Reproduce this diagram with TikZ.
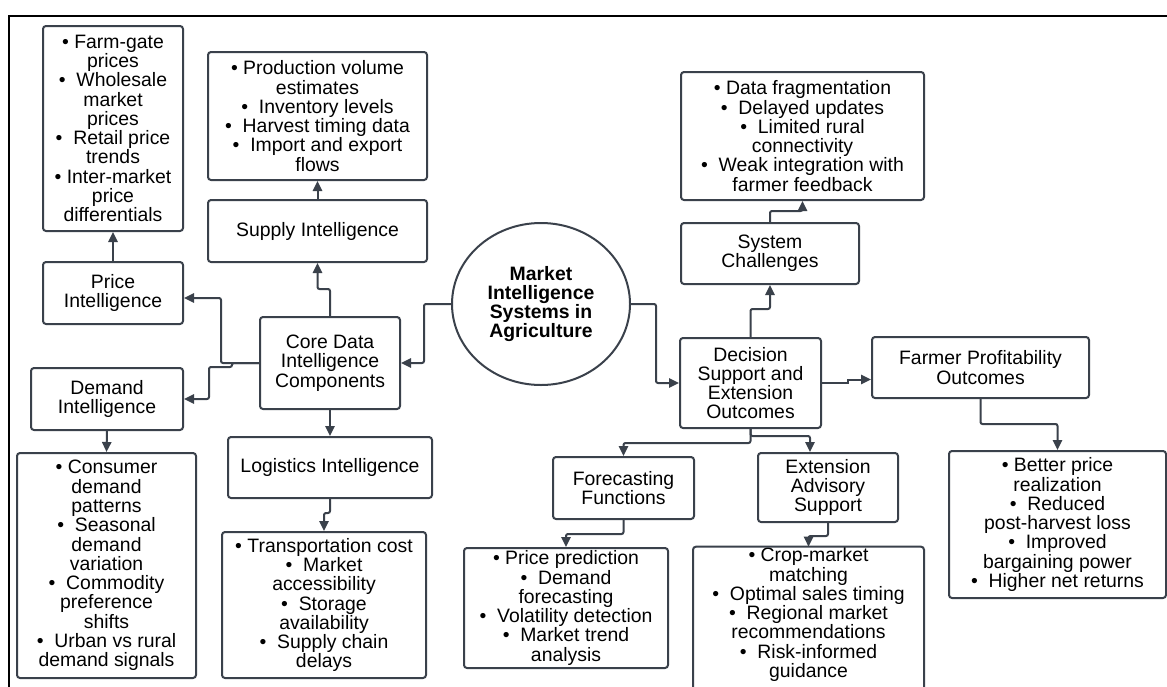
\documentclass[tikz,border=0pt]{standalone}
\usepackage{fontspec}
\setmainfont{Liberation Sans}
\usetikzlibrary{arrows.meta,shapes.geometric}
\definecolor{ln}{RGB}{58,65,75}
\newcommand{\bl}{\textbullet\ }
\newcommand{\bll}{\textbullet\ \ }
\begin{document}
\begin{tikzpicture}[x=0.5pt,y=-0.5pt,
  box/.style={draw=ln, line width=1pt, rounded corners=1.5pt, align=center, inner sep=0pt,
    font=\fontsize{9.7pt}{9.63pt}\selectfont, text=black},
  arr/.style={draw=ln, line width=1pt, rounded corners=1pt, -{Triangle[length=5pt,width=4.6pt]}},
  frame/.style={draw=black, line width=1pt}
]
\useasboundingbox (0,0) rectangle (1167,686);
\draw[frame] (9,690) -- (9,16) -- (1170,16);

% left side
\node[box, minimum width=70pt, minimum height=102.5pt] (pricebul) at (113,128.5)
  {\bl Farm-gate\\prices\\\bll Wholesale\\market\\prices\\\bll Retail price\\trends\\\bl Inter-market\\price\\differentials};
\node[box, minimum width=109.5pt, minimum height=64pt] (supplybul) at (317.5,116)
  {\bl Production volume\\estimates\\\bll Inventory levels\\\bll Harvest timing data\\\bll Import and export\\flows};
\node[box, minimum width=109.5pt, minimum height=31pt] (supply) at (317.5,231) {Supply Intelligence};
\node[box, minimum width=70pt, minimum height=31pt] (price) at (113,293) {Price\\Intelligence};
\node[box, minimum width=70pt, minimum height=46pt] (core) at (330,363) {Core Data\\Intelligence\\Components};
\node[box, minimum width=76pt, minimum height=31pt] (demand) at (107,399) {Demand\\Intelligence};
\node[box, minimum width=102pt, minimum height=30.5pt] (logistics) at (330,467.5) {Logistics Intelligence};
\node[box, minimum width=89.5pt, minimum height=112.5pt] (demandbul) at (106.5,565.5)
  {\bl Consumer\\demand\\patterns\\\bll Seasonal\\demand\\variation\\\bll Commodity\\preference\\shifts\\\bll Urban vs rural\\demand signals};
\node[box, minimum width=102pt, minimum height=73pt] (logbul) at (324,605)
  {\bl Transportation cost\\\bll Market\\accessibility\\\bll Storage\\availability\\\bll Supply chain\\delays};

% centre
\node[box, ellipse, minimum width=89pt, minimum height=81pt, font=\fontsize{9.7pt}{9.63pt}\selectfont\bfseries] (mis) at (541,304)
  {Market\\Intelligence\\Systems in\\Agriculture};

% right side
\node[box, minimum width=70.5pt, minimum height=45pt] (decision) at (750.5,383) {Decision\\Support and\\Extension\\Outcomes};
\node[box, minimum width=89pt, minimum height=30.5pt] (syschal) at (770,253.5) {System\\Challenges};
\node[box, minimum width=121.5pt, minimum height=64pt] (chalbul) at (802.5,136)
  {\bl Data fragmentation\\\bll Delayed updates\\\bll Limited rural\\connectivity\\\bll Weak integration with\\farmer feedback};
\node[box, minimum width=108.5pt, minimum height=30.5pt] (farmer) at (980.5,367.5) {Farmer Profitability\\Outcomes};
\node[box, minimum width=108.5pt, minimum height=73.5pt] (farmbul) at (1057.5,524.5)
  {\bl Better price\\realization\\\bll Reduced\\post-harvest loss\\\bll Improved\\bargaining power\\\bll Higher net returns};
\node[box, minimum width=70.5pt, minimum height=31pt] (forecast) at (623.5,488) {Forecasting\\Functions};
\node[box, minimum width=70pt, minimum height=34.5pt] (extension) at (828,487.5) {Extension\\Advisory\\Support};
\node[box, minimum width=102pt, minimum height=60pt] (forecastbul) at (566,608)
  {\bl Price prediction\\\bll Demand\\forecasting\\\bll Volatility detection\\\bll Market trend\\analysis};
\node[box, draw=none, minimum width=114.5pt, minimum height=66.5pt] (extbul) at (808.5,614.5)
  {\bl Crop-market\\matching\\\bll Optimal sales timing\\\bll Regional market\\recommendations\\\bll Risk-informed\\guidance};
\draw[draw=ln, line width=1pt, rounded corners=1.5pt]
  ([yshift=-10pt]extbul.south west) |- (extbul.north east) -- ([yshift=-10pt]extbul.south east);

% connectors
\draw[arr] (price.north) -- (pricebul.south);
\draw[arr] (supply.north) -- (supplybul.south);
\draw[arr] (core.north) -- ++(0,-27) -| (supply.south);
\draw[arr] (core.west) -- ++(-38,0) |- ([yshift=-2.5pt]price.east);
\draw[arr] (core.west) -- ++(-27,0) |- ++(-23,4) |- (demand.east);
\draw[arr] (core.south) -- (logistics.north);
\draw[arr] (demand.south) -- (demandbul.north);
\draw[arr] (logistics.south) -- ++(0,14) -| (logbul.north);
\draw[arr] (mis.west) -- ++(-27,0) |- (core.east);
\draw[arr] (mis.east) -- ++(25,0) |- (decision.west);
\draw[arr] (decision.north) -- ++(0,-28) -| (syschal.south);
\draw[arr] (syschal.north) -- ++(0,-11) -| (chalbul.south);
\draw[arr, sharp corners] (decision.east) -- ++(26,0) |- ([yshift=-6pt]farmer.west);
\draw[arr] (farmer.south) -- ++(0,25) -| (farmbul.north);
\draw[arr] (decision.south) -- ++(0,14) -| (forecast.north);
\draw[arr] (decision.south) -- ++(0,7) -| ([xshift=-9pt]extension.north);
\draw[arr] (extension.south) -- ++(0,13) -| (extbul.north);
\draw[arr] (forecast.south) -- ++(0,14) -| (forecastbul.north);
\end{tikzpicture}
\end{document}
